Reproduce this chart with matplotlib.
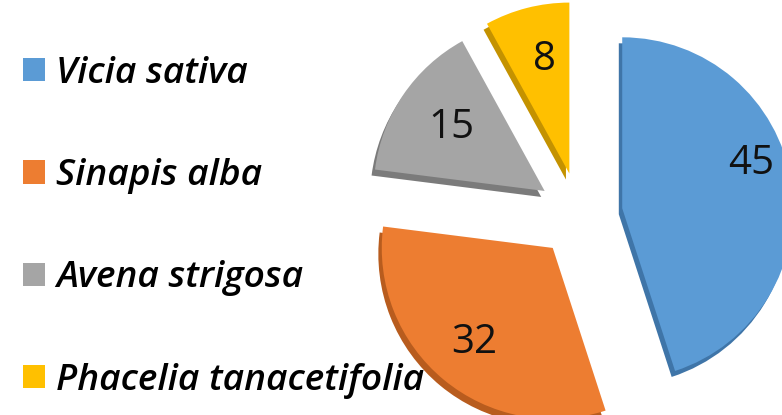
import numpy as np
import matplotlib.pyplot as plt
from matplotlib.patches import Patch

species = ['Vicia sativa', 'Sinapis alba', 'Avena strigosa', 'Phacelia tanacetifolia']
shares = [45, 32, 15, 8]
colors = ['#5B9BD5', '#ED7D31', '#A5A5A5', '#FFC000']
side_colors = ['#3F75A8', '#B85C1E', '#7B7B7B', '#C49200']

plt.rcParams['font.family'] = ['Open Sans', 'DejaVu Sans']

fig = plt.figure(figsize=(7.82, 4.15), dpi=100)
ax = fig.add_axes([0, 0, 1, 1])

explode = [0.25] * len(shares)

# darker copy slightly below/left gives the slab thickness
ax.pie(shares, colors=side_colors, startangle=90, counterclock=False,
       explode=explode, center=(-0.02, -0.035), radius=1,
       wedgeprops=dict(linewidth=0))
wedges, _ = ax.pie(shares, colors=colors, startangle=90, counterclock=False,
                   explode=explode, center=(0, 0), radius=1,
                   wedgeprops=dict(linewidth=0))

# pie of radius 1 centred at the origin, 171 px per unit
ax.set_xlim(-580 / 171, 202 / 171)
ax.set_ylim(-200 / 171, 215 / 171)
ax.set_aspect('equal')
ax.axis('off')

# value labels (angle nudge in degrees, distance from slice tip)
nudge = [-10, 0, 0, 2]
dist = [0.8, 0.72, 0.66, 0.68]
for w, v, n, r in zip(wedges, shares, nudge, dist):
    mid = np.deg2rad((w.theta1 + w.theta2) / 2 - n)
    cx, cy = w.center
    ax.text(cx + r * np.cos(mid), cy + r * np.sin(mid), str(v),
            ha='center', va='center', fontsize=29, color='#111111')

handles = [Patch(facecolor=c, edgecolor='none') for c in colors]
ax.legend(handles, species, loc='upper left', bbox_to_anchor=(0.0294, 0.866),
          frameon=False, handlelength=0.6, handleheight=0.6,
          handletextpad=0.3, labelspacing=1.79, borderaxespad=0, borderpad=0,
          prop=dict(size=26.7, style='italic', weight='semibold'))

fig.savefig('out.png', dpi=100)
